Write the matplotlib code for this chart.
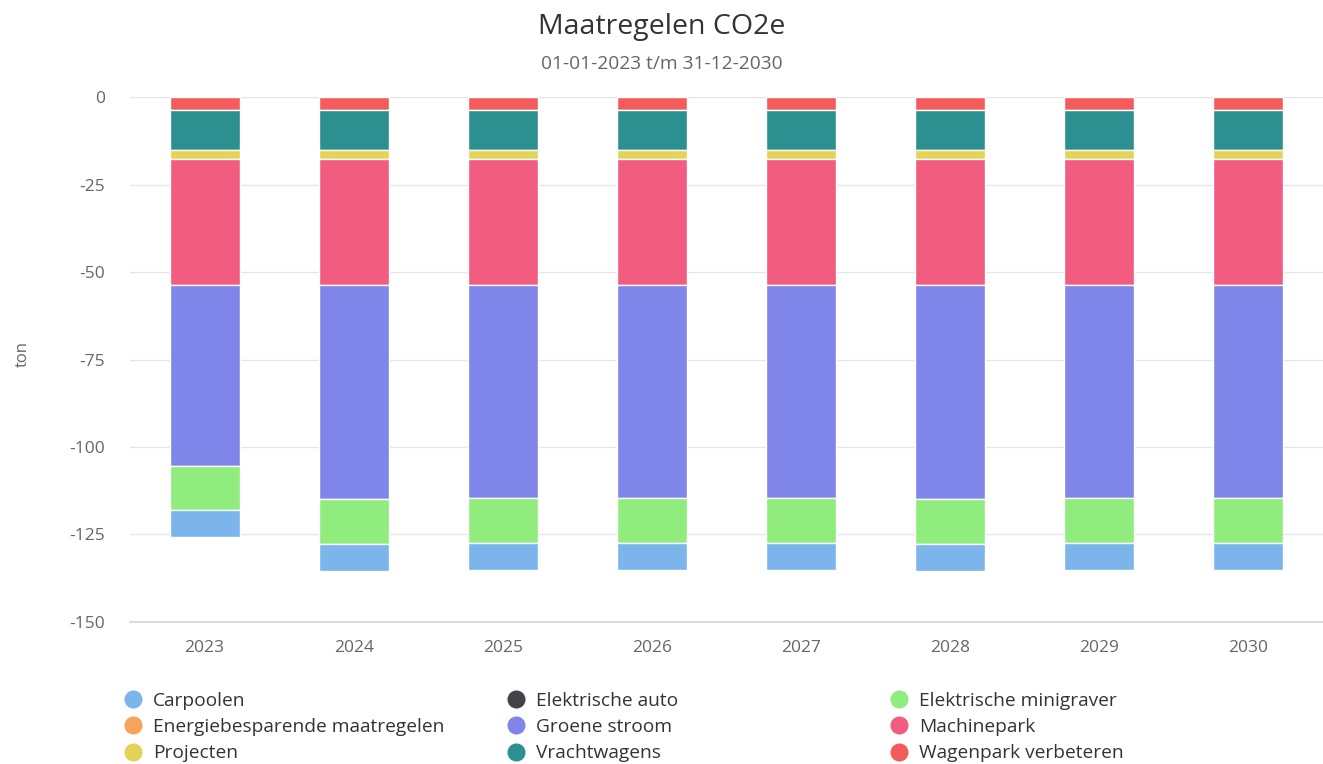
"""
Maatregelen CO2e — stacked (negative) bars per year, Highcharts-like look.
"""

import numpy as np
import matplotlib.pyplot as plt
from matplotlib.lines import Line2D

plt.rcParams.update({
    "font.family": ["Open Sans", "DejaVu Sans"],
    "font.size": 10,
    "axes.unicode_minus": False,
})

# ── Data ───────────────────────────────────────────────────────────────────
years = ["2023", "2024", "2025", "2026", "2027", "2028", "2029", "2030"]

carpoolen = [-7.7, -7.7, -7.7, -7.7, -7.7, -7.7, -7.7, -7.7]
elektrische_auto = [0, 0, 0, 0, 0, 0, 0, 0]
elektrische_minigraver = [-12.6, -12.8, -12.8, -12.8, -12.8, -12.8, -12.8, -12.8]
energiebesparend = [0, 0, 0, 0, 0, 0, 0, 0]
groene_stroom = [-51.7, -61.3, -60.9, -60.9, -60.9, -61.3, -60.9, -60.9]
machinepark = [-35.9, -35.9, -35.9, -35.9, -35.9, -35.9, -35.9, -35.9]
projecten = [-2.7, -2.7, -2.7, -2.7, -2.7, -2.7, -2.7, -2.7]
vrachtwagens = [-11.3, -11.3, -11.3, -11.3, -11.3, -11.3, -11.3, -11.3]
wagenpark = [-3.8, -3.8, -3.8, -3.8, -3.8, -3.8, -3.8, -3.8]

# legend order (row-wise, three columns)
SERIES = [
    ("Carpoolen", carpoolen, "#7cb5ec"),
    ("Elektrische auto", elektrische_auto, "#434348"),
    ("Elektrische minigraver", elektrische_minigraver, "#90ed7d"),
    ("Energiebesparende maatregelen", energiebesparend, "#f7a35c"),
    ("Groene stroom", groene_stroom, "#8085e9"),
    ("Machinepark", machinepark, "#f15c80"),
    ("Projecten", projecten, "#e4d354"),
    ("Vrachtwagens", vrachtwagens, "#2b908f"),
    ("Wagenpark verbeteren", wagenpark, "#f45b5b"),
]

# stacking order from zero downwards = reverse of legend order
STACK_ORDER = list(reversed(SERIES))

# ── Figure ─────────────────────────────────────────────────────────────────
fig = plt.figure(figsize=(13.23, 7.64), dpi=100)
ax = fig.add_axes([0.0983, 0.1859, 0.9017, 0.873 - 0.1859])

x = np.arange(len(years))
bottom = np.zeros(len(years))
for label, vals, color in STACK_ORDER:
    vals = np.array(vals, dtype=float)
    if np.all(vals == 0):
        continue
    ax.bar(x, vals, width=0.47, bottom=bottom, color=color,
           edgecolor="white", linewidth=1.0, zorder=3)
    bottom += vals

ax.set_xlim(-0.5, len(years) - 0.5)
ax.set_ylim(-150, 0)
ax.set_yticks([0, -25, -50, -75, -100, -125, -150])
ax.set_xticks(x)
ax.set_xticklabels(years)
ax.tick_params(axis="both", length=0, colors="#666666", labelsize=12.5)
ax.tick_params(axis="x", pad=13)
ax.tick_params(axis="y", pad=18)

ax.grid(axis="y", color="#e6e6e6", linewidth=1.0, zorder=0)
ax.set_axisbelow(True)
for side in ["top", "right", "left"]:
    ax.spines[side].set_visible(False)
ax.spines["bottom"].set_color("#ccd6eb")
ax.spines["bottom"].set_linewidth(1.2)
ax.spines["bottom"].set_zorder(4)

ax.set_ylabel("ton", color="#666666", fontsize=12)
ax.yaxis.set_label_coords(-0.083, 0.51)

fig.text(0.5, 1 - 27 / 764, "Maatregelen CO2e", ha="center", va="center",
         fontsize=20.5, color="#333333")
fig.text(0.5, 1 - 64 / 764, "01-01-2023 t/m 31-12-2030", ha="center",
         va="center", fontsize=13.8, color="#666666")

# legend: three separate columns so x positions can be matched
col_x = [112 / 1323, 495 / 1323, 878 / 1323]
for c in range(3):
    entries = SERIES[c::3]
    handles = [Line2D([], [], marker="o", linestyle="", markersize=12,
                      markerfacecolor=col, markeredgecolor=col)
               for _, _, col in entries]
    labels = [lab for lab, _, _ in entries]
    fig.legend(handles, labels, loc="upper left",
               bbox_to_anchor=(col_x[c], 1 - 682 / 764), frameon=False,
               fontsize=13.8, labelcolor="#333333", handletextpad=0.45,
               labelspacing=0.44, borderpad=0, handlelength=1.2)

fig.savefig("out.png", dpi=100)
